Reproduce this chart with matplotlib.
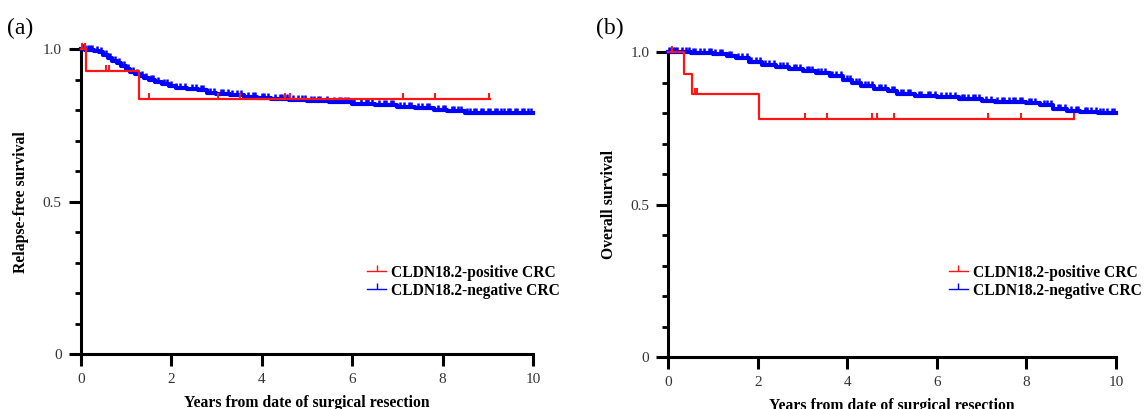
import matplotlib
matplotlib.use('Agg')
import matplotlib.pyplot as plt
import numpy as np

plt.rcParams['font.family'] = ['Liberation Serif', 'DejaVu Serif']

# Legend labels
labels = ['CLDN18.2-positive CRC', 'CLDN18.2-negative CRC']

# (a) relapse-free survival, CLDN18.2-positive
pos_rfs_t = [0, 0.12, 1.29, 9.05]
pos_rfs_s = [1.0, 0.929, 0.836, 0.836]
pos_rfs_cens = [0.03, 0.1, 0.55, 0.63, 1.5, 3.03, 3.53, 4.52, 4.62, 7.12, 7.83, 9.03]

# (a) relapse-free survival, CLDN18.2-negative
neg_rfs_t = [0, 0.1, 0.3, 0.4, 0.5, 0.6, 0.7, 0.8, 0.9, 1.0, 1.1, 1.2, 1.3, 1.4, 1.5,
             1.65, 1.8, 1.95, 2.1, 2.35, 2.6, 2.8, 3.0, 3.3, 3.6, 3.9, 4.2, 4.6, 5.0,
             5.5, 6.0, 6.5, 7.0, 7.4, 7.8, 8.1, 8.5, 10.0]
neg_rfs_s = [1.0, 0.999, 0.995, 0.99, 0.982, 0.972, 0.962, 0.954, 0.946, 0.936, 0.927,
             0.918, 0.911, 0.905, 0.9, 0.893, 0.886, 0.879, 0.874, 0.87, 0.866, 0.858,
             0.853, 0.849, 0.845, 0.841, 0.838, 0.834, 0.83, 0.826, 0.822, 0.818, 0.812,
             0.808, 0.8, 0.797, 0.792, 0.792]
neg_rfs_cens = [0.02, 0.05, 0.1, 0.15, 0.2, 0.25, 0.35, 0.45, 0.55, 0.65, 0.75, 0.85,
                0.95, 1.05, 1.15, 1.25, 1.35, 1.45, 1.55, 1.6, 1.7, 1.85, 1.9, 2.0,
                2.1, 2.2, 2.3, 2.45, 2.55, 2.65, 2.7, 2.85, 2.95, 3.1, 3.15, 3.25,
                3.35, 3.45, 3.55, 3.7, 3.8, 3.85, 4.0, 4.05, 4.15, 4.3, 4.4, 4.45,
                4.55, 4.7, 4.8, 4.9, 4.95, 5.1, 5.15, 5.25, 5.3, 5.45, 5.6, 5.7, 5.75,
                5.85, 5.9, 6.05, 6.2, 6.3, 6.35, 6.45, 6.6, 6.7, 6.75, 6.85, 6.9,
                7.05, 7.15, 7.25, 7.3, 7.45, 7.55, 7.65, 7.7, 7.9, 8.0, 8.05, 8.2,
                8.25, 8.35, 8.4, 8.55, 8.6, 8.7, 8.75, 8.85, 8.9, 9.0, 9.05, 9.15,
                9.2, 9.3, 9.35, 9.45, 9.5, 9.6, 9.65, 9.75, 9.8, 9.9, 9.95]

# (b) overall survival, CLDN18.2-positive
pos_os_t = [0, 0.36, 0.53, 2.03, 9.05]
pos_os_s = [1.0, 0.929, 0.864, 0.782, 0.782]
pos_os_cens = [0.08, 0.6, 0.65, 3.05, 3.55, 4.55, 4.65, 5.03, 7.15, 7.88, 9.05]

# (b) overall survival, CLDN18.2-negative
neg_os_t = [0, 0.5, 1.0, 1.3, 1.5, 1.8, 2.1, 2.4, 2.7, 3.0, 3.3, 3.6, 3.9, 4.1, 4.3,
            4.6, 4.9, 5.1, 5.5, 6.0, 6.5, 7.0, 7.3, 8.0, 8.3, 8.6, 8.9, 9.2, 9.6, 10.0]
neg_os_s = [1.0, 0.999, 0.996, 0.988, 0.98, 0.968, 0.96, 0.953, 0.946, 0.939, 0.931,
            0.921, 0.91, 0.9, 0.889, 0.88, 0.872, 0.862, 0.858, 0.853, 0.847, 0.84,
            0.836, 0.835, 0.826, 0.815, 0.808, 0.805, 0.802, 0.802]
neg_os_cens = [0.02, 0.05, 0.1, 0.15, 0.2, 0.3, 0.4, 0.45, 0.55, 0.6, 0.7, 0.8, 0.9,
               0.95, 1.05, 1.15, 1.2, 1.35, 1.4, 1.55, 1.65, 1.75, 1.85, 1.95, 2.05,
               2.15, 2.25, 2.35, 2.5, 2.55, 2.65, 2.8, 2.85, 2.95, 3.1, 3.15, 3.2,
               3.35, 3.4, 3.5, 3.65, 3.75, 3.85, 4.0, 4.05, 4.2, 4.25, 4.4, 4.45,
               4.55, 4.7, 4.75, 4.85, 5.0, 5.05, 5.2, 5.25, 5.35, 5.4, 5.6, 5.65,
               5.8, 5.85, 5.95, 6.1, 6.2, 6.3, 6.4, 6.55, 6.6, 6.7, 6.8, 6.85, 6.95,
               7.1, 7.2, 7.35, 7.45, 7.5, 7.6, 7.7, 7.75, 7.85, 7.9, 8.05, 8.1, 8.2,
               8.4, 8.45, 8.55, 8.7, 8.75, 8.85, 9.0, 9.1, 9.15, 9.3, 9.35, 9.45,
               9.55, 9.65, 9.7, 9.8, 9.9, 9.95]

RED = '#ff1414'
BLUE = '#0000ff'


def surv_at(t, s, x):
    """Survival value of a step curve at times x"""
    idx = np.searchsorted(t, x, side='right') - 1
    return np.asarray(s)[np.clip(idx, 0, len(s) - 1)]


def draw_panel(ax, neg, pos, ylabel):
    nt, ns, nc = neg
    pt, ps, pc = pos
    ax.step(nt, ns, where='post', color=BLUE, lw=3.0, clip_on=False, zorder=3)
    ax.plot(nc, surv_at(nt, ns, nc), ls='none', marker=2, ms=3.5, mew=1.8,
            color=BLUE, clip_on=False, zorder=3)
    ax.step(pt, ps, where='post', color=RED, lw=1.6, clip_on=False, zorder=4)
    ax.plot(pc, surv_at(pt, ps, pc), ls='none', marker=2, ms=4.2, mew=1.4,
            color=RED, clip_on=False, zorder=4)

    ax.set_xlim(0, 10)
    ax.set_ylim(0, 1)
    ax.set_xticks([0, 2, 4, 6, 8, 10])
    ax.set_yticks([0, 0.5, 1.0])
    ax.set_yticklabels(['0', '0.5', '1.0'])
    ax.set_yticks(np.arange(0.1, 1.0, 0.1), minor=True)
    ax.tick_params(axis='both', which='major', length=8.6, width=2.2,
                   labelsize=11, labelcolor='#333333', pad=5)
    ax.tick_params(axis='y', which='minor', length=4.3, width=2.0)
    ax.tick_params(axis='x', which='minor', bottom=False)
    for side in ['top', 'right']:
        ax.spines[side].set_visible(False)
    for side in ['left', 'bottom']:
        ax.spines[side].set_linewidth(2.2)
    ax.set_xlabel('Years from date of surgical resection', fontsize=11.3,
                  fontweight='bold', labelpad=6)
    ax.set_ylabel(ylabel, fontsize=11.3, fontweight='bold', labelpad=10)


fig = plt.figure(figsize=(11.47, 4.09), dpi=100)
ax1 = fig.add_axes([0.0704, 0.1337, 0.3943, 0.7457])
ax2 = fig.add_axes([0.5827, 0.1264, 0.3903, 0.7457])

draw_panel(ax1, (neg_rfs_t, neg_rfs_s, neg_rfs_cens),
           (pos_rfs_t, pos_rfs_s, pos_rfs_cens), 'Relapse-free survival')
draw_panel(ax2, (neg_os_t, neg_os_s, neg_os_cens),
           (pos_os_t, pos_os_s, pos_os_cens), 'Overall survival')

# Legend handles
for ax, anchor in [(ax1, (0.3135, 0.372)), (ax2, (0.8205, 0.372))]:
    h_pos, = ax.plot([], [], color=RED, lw=1.0, marker=2, ms=4, mew=1.0)
    h_neg, = ax.plot([], [], color=BLUE, lw=1.0, marker=2, ms=4, mew=1.0)
    fig.legend([h_pos, h_neg], labels, loc='upper left', bbox_to_anchor=anchor,
               frameon=False, borderpad=0, handlelength=1.2, handletextpad=0.35,
               labelspacing=0.14, prop={'size': 11.2, 'weight': 'bold'})

fig.text(0.006, 0.93, '(a)', fontsize=17, va='center', ha='left')
fig.text(0.520, 0.93, '(b)', fontsize=17, va='center', ha='left')

fig.savefig('out.png', dpi=100)
